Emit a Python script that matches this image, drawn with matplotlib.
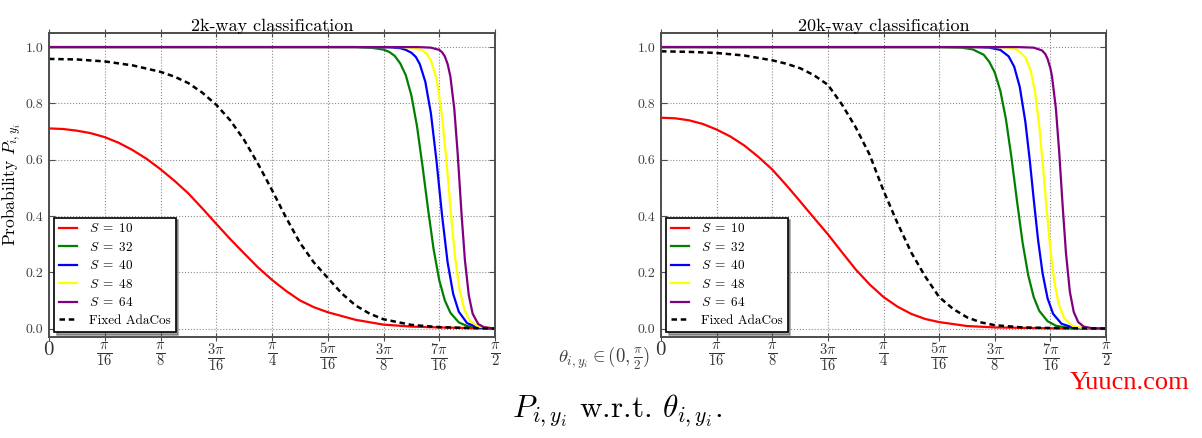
import numpy as np
import matplotlib
matplotlib.use("Agg")
import matplotlib.pyplot as plt

plt.rcParams['font.family'] = 'serif'
plt.rcParams['font.serif'] = ['cmr10', 'DejaVu Serif']
plt.rcParams['mathtext.fontset'] = 'cm'
plt.rcParams['axes.unicode_minus'] = False

# angles are given in units of pi/16
# ---- 2k-way classification ----
t_red_2k = [0, 0.25, 0.5, 0.75, 1, 1.25, 1.5, 1.75, 2, 2.25, 2.5, 2.75, 3, 3.25, 3.5,
            3.75, 4, 4.25, 4.5, 4.75, 5, 5.5, 6, 6.5, 7, 7.5, 8]
p_red_2k = [0.711, 0.709, 0.703, 0.694, 0.68, 0.66, 0.634, 0.603, 0.566, 0.525, 0.48,
            0.427, 0.372, 0.318, 0.267, 0.217, 0.173, 0.134, 0.10, 0.076, 0.058, 0.031,
            0.014, 0.007, 0.004, 0.002, 0.0]

t_green_2k = [0, 5.5, 5.8, 6.0, 6.1, 6.2, 6.3, 6.4, 6.5, 6.6, 6.7, 6.8, 6.9, 7.0, 7.1, 7.2,
              7.35, 7.5, 7.7, 8.0]
p_green_2k = [1.0, 1.0, 0.997, 0.991, 0.983, 0.969, 0.942, 0.90, 0.828, 0.72, 0.577, 0.423,
              0.28, 0.172, 0.10, 0.056, 0.022, 0.009, 0.003, 0.0]

t_blue_2k = [0, 5.5, 6.1, 6.3, 6.4, 6.5, 6.58, 6.65, 6.75, 6.85, 6.95, 7.05, 7.15, 7.25,
             7.35, 7.5, 7.7, 8.0]
p_blue_2k = [1.0, 1.0, 0.999, 0.996, 0.99, 0.98, 0.965, 0.94, 0.877, 0.765, 0.597, 0.403,
             0.235, 0.123, 0.06, 0.019, 0.004, 0.0]

t_yellow_2k = [0, 6.3, 6.5, 6.7, 6.78, 6.85, 6.95, 7.05, 7.13, 7.2, 7.28, 7.36, 7.45,
               7.55, 7.7, 8.0]
p_yellow_2k = [1.0, 1.0, 0.998, 0.988, 0.975, 0.953, 0.888, 0.756, 0.593, 0.43, 0.26,
               0.143, 0.067, 0.027, 0.007, 0.0]

t_purple_2k = [0, 6.6, 6.85, 7.0, 7.05, 7.1, 7.15, 7.2, 7.27, 7.33, 7.4, 7.46, 7.53, 7.6,
               7.7, 7.8, 8.0]
p_purple_2k = [1.0, 1.0, 0.998, 0.99, 0.982, 0.967, 0.94, 0.895, 0.78, 0.623, 0.406,
               0.244, 0.118, 0.052, 0.016, 0.005, 0.0]

t_fixed_2k = [0, 0.5, 1, 1.5, 2, 2.25, 2.5, 2.75, 3, 3.25, 3.5, 3.75, 4, 4.25, 4.5, 4.75,
              5, 5.25, 5.5, 5.75, 6, 6.5, 7, 7.5, 8]
p_fixed_2k = [0.958, 0.956, 0.949, 0.935, 0.912, 0.895, 0.872, 0.838, 0.795, 0.74, 0.67,
              0.585, 0.492, 0.395, 0.305, 0.235, 0.18, 0.125, 0.082, 0.053, 0.033, 0.013,
              0.005, 0.002, 0.0]

# ---- 20k-way classification ----
t_red_20k = [0, 0.25, 0.5, 0.75, 1, 1.25, 1.5, 1.75, 2, 2.25, 2.5, 2.75, 3, 3.25, 3.5,
             3.75, 4, 4.25, 4.5, 4.75, 5, 5.5, 6, 7, 8]
p_red_20k = [0.749, 0.747, 0.74, 0.727, 0.707, 0.682, 0.65, 0.61, 0.565, 0.51, 0.452,
             0.393, 0.335, 0.272, 0.21, 0.157, 0.112, 0.078, 0.052, 0.034, 0.023, 0.009,
             0.004, 0.001, 0.0]

t_green_20k = [0, 5.0, 5.4, 5.6, 5.8, 5.9, 6.0, 6.1, 6.2, 6.3, 6.4, 6.5, 6.6, 6.7, 6.8,
               6.95, 7.1, 7.3, 7.6, 8.0]
p_green_20k = [1.0, 1.0, 0.998, 0.992, 0.973, 0.948, 0.91, 0.845, 0.745, 0.608, 0.453,
               0.306, 0.191, 0.112, 0.063, 0.026, 0.01, 0.003, 0.0005, 0.0]

t_blue_20k = [0, 5.6, 5.9, 6.1, 6.25, 6.35, 6.45, 6.55, 6.63, 6.7, 6.78, 6.86, 6.95, 7.05,
              7.2, 7.4, 7.7, 8.0]
p_blue_20k = [1.0, 1.0, 0.998, 0.99, 0.967, 0.93, 0.858, 0.735, 0.597, 0.46, 0.313, 0.196,
              0.107, 0.052, 0.017, 0.004, 0.0003, 0.0]

t_yellow_20k = [0, 6.0, 6.25, 6.4, 6.55, 6.65, 6.73, 6.8, 6.87, 6.93, 7.0, 7.07, 7.15,
                7.25, 7.4, 7.6, 8.0]
p_yellow_20k = [1.0, 1.0, 0.998, 0.991, 0.964, 0.914, 0.832, 0.72, 0.57, 0.43, 0.28,
                0.168, 0.086, 0.036, 0.009, 0.001, 0.0]

t_purple_20k = [0, 6.4, 6.7, 6.85, 6.91, 6.95, 7.0, 7.03, 7.1, 7.16, 7.22, 7.28, 7.35,
                7.42, 7.5, 7.6, 7.75, 8.0]
p_purple_20k = [1.0, 1.0, 0.998, 0.988, 0.975, 0.958, 0.925, 0.895, 0.78, 0.623, 0.438,
                0.269, 0.131, 0.059, 0.023, 0.007, 0.001, 0.0]

t_fixed_20k = [0, 0.5, 1, 1.5, 2, 2.25, 2.5, 2.75, 3, 3.25, 3.5, 3.75, 4, 4.25, 4.5, 4.75,
               5, 5.25, 5.5, 5.75, 6, 6.5, 7, 8]
p_fixed_20k = [0.985, 0.983, 0.979, 0.97, 0.953, 0.941, 0.925, 0.9, 0.866, 0.797, 0.715,
               0.618, 0.49, 0.375, 0.27, 0.185, 0.112, 0.07, 0.04, 0.022, 0.012, 0.004,
               0.002, 0.0]

series_labels = [r'$S\;=\;10$', r'$S\;=\;32$', r'$S\;=\;40$', r'$S\;=\;48$', r'$S\;=\;64$']
series_colors = ['red', 'green', 'blue', 'yellow', 'purple']

xtick_pos = [0, 1, 2, 3, 4, 5, 6, 7, 8]
xtick_labels = ['$0$', r'$\frac{\pi}{16}$', r'$\frac{\pi}{8}$', r'$\frac{3\pi}{16}$',
                r'$\frac{\pi}{4}$', r'$\frac{5\pi}{16}$', r'$\frac{3\pi}{8}$',
                r'$\frac{7\pi}{16}$', r'$\frac{\pi}{2}$']
ytick_pos = [0.0, 0.2, 0.4, 0.6, 0.8, 1.0]
ytick_labels = ['0.0', '0.2', '0.4', '0.6', '0.8', '1.0']

panels = [
    ("2k-way classification",
     [(t_red_2k, p_red_2k), (t_green_2k, p_green_2k), (t_blue_2k, p_blue_2k),
      (t_yellow_2k, p_yellow_2k), (t_purple_2k, p_purple_2k)],
     (t_fixed_2k, p_fixed_2k)),
    ("20k-way classification",
     [(t_red_20k, p_red_20k), (t_green_20k, p_green_20k), (t_blue_20k, p_blue_20k),
      (t_yellow_20k, p_yellow_20k), (t_purple_20k, p_purple_20k)],
     (t_fixed_20k, p_fixed_20k)),
]

fig = plt.figure(figsize=(12.02, 4.38), dpi=100)
W, H = 1202.0, 438.0
axes_px = [(49, 495), (661, 1106)]
top_px, bot_px = 33, 337

unit = np.pi / 16
for (x0, x1), (title, curves, fixed) in zip(axes_px, panels):
    ax = fig.add_axes([x0 / W, 1 - bot_px / H, (x1 - x0) / W, (bot_px - top_px) / H])
    for (t, p), lab, col in zip(curves, series_labels, series_colors):
        ax.plot(np.array(t) * unit, p, color=col, lw=1.6, label=lab)
    ax.plot(np.array(fixed[0]) * unit, fixed[1], color='black', lw=1.8,
            linestyle=(0, (2.2, 1.5)), label='Fixed AdaCos')

    ax.set_xlim(0, np.pi / 2)
    ax.set_ylim(-0.03, 1.05)
    ax.set_xticks(np.array(xtick_pos) * unit)
    ax.set_xticklabels(xtick_labels, fontsize=15, color='0.2')
    ax.set_yticks(ytick_pos)
    ax.set_yticklabels(ytick_labels, fontsize=10, color='0.25')
    ax.tick_params(axis='x', direction='inout', length=6, pad=0, top=True, color='0.3')
    ax.tick_params(axis='y', direction='in', length=4, pad=4, right=True, color='0.3')
    ax.grid(True, linestyle=':', color='0.55', lw=0.8)
    for sp in ax.spines.values():
        sp.set_color('0.3')
        sp.set_linewidth(1.4)
    ax.set_title(title, fontsize=13, pad=1.5)

    leg = ax.legend(loc='lower left', bbox_to_anchor=(0.0, 0.0), fontsize=9.5,
                    shadow=True, fancybox=False, framealpha=1, edgecolor='black',
                    handlelength=1.4, handletextpad=0.9, labelspacing=0.42,
                    borderpad=0.35, borderaxespad=0.4)
    leg.get_frame().set_linewidth(1.2)

    if x0 == 49:
        ax.set_ylabel('Probability $P_{i,y_i}$', fontsize=12.5)
        ax.yaxis.set_label_coords(-25 / 446, 0.5)

fig.text(558 / W, 1 - 358 / H, r'$\theta_{i,y_i} \in (0,\frac{\pi}{2})$', fontsize=13.5,
         color='0.25', ha='left', va='center')
fig.text(617 / W, 1 - 411 / H, r'$P_{i,y_i}$ w.r.t. $\theta_{i,y_i}$.', fontsize=22.5,
         ha='center', va='center')
fig.text(1190 / W, 1 - 383 / H, 'Yuucn.com', fontsize=19, color='red',
         family='Liberation Serif', ha='right', va='center')

fig.savefig('out.png', dpi=100)
